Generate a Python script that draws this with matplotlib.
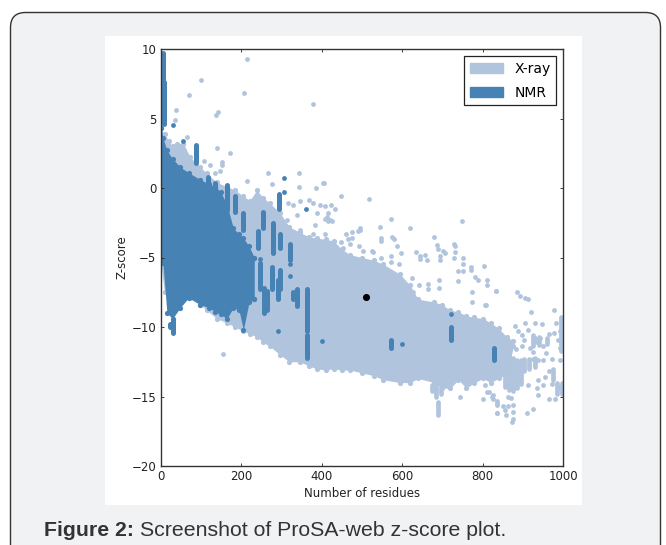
import matplotlib
matplotlib.use('Agg')
import matplotlib.pyplot as plt
from matplotlib.patches import FancyBboxPatch, Rectangle, Patch
from matplotlib.transforms import IdentityTransform

W, H = 666, 545

# X-ray dense cloud
xray_x = [0, 10, 20, 30, 40, 57, 74, 99, 115, 140, 165, 185, 206, 222, 239, 255, 272, 297, 320, 347, 368, 388,
          410, 430, 450, 471, 500, 530, 554, 595, 620, 640, 680, 700, 720, 740, 760, 780, 802, 820, 840, 860, 877]
xray_top = [4.3, 3.9, 3.4, 3.0, 3.2, 3.2, 2.2, 1.5, 1.05, 0.4, 0.1, -0.15, -0.6, -0.9, -0.15, -0.7, -1.1, -1.8, -2.8,
            -3.2, -3.5, -3.6, -3.7, -3.8, -4.4, -4.8, -5.0, -5.2, -5.5, -6.2, -7.0, -8.0, -8.2, -8.4, -8.8, -8.9,
            -9.2, -9.3, -9.4, -9.7, -10.1, -10.7, -11.0]
xray_bot = [-5.3, -7.5, -8.0, -8.4, -8.4, -7.9, -7.9, -8.4, -8.8, -9.4, -9.7, -10.0, -10.3, -10.5, -10.7, -11.1,
            -11.4, -12.0, -12.5, -12.5, -12.8, -13.0, -13.1, -13.0, -13.1, -13.1, -13.3, -13.5, -13.8, -14.0, -14.0,
            -13.7, -14.0, -14.4, -14.4, -13.8, -14.4, -14.0, -13.7, -14.0, -13.7, -13.4, -11.4]

# X-ray clumps: residues, low, high
xray_clump_x = [690, 675, 685, 698, 855, 865, 875, 885, 895, 903, 915, 930, 925, 940, 960, 996, 1000, 975, 985, 997]
xray_clump_lo = [-16.3, -14.6, -15.0, -14.8, -14.3, -14.5, -14.6, -14.4, -14.1, -13.2, -13.0, -12.9, -11.4, -11.3,
                 -11.2, -11.7, -11.6, -13.8, -14.8, -14.8]
xray_clump_hi = [-15.4, -14.2, -14.2, -14.3, -12.0, -12.0, -12.2, -12.4, -12.4, -12.3, -12.3, -12.2, -10.6, -10.7,
                 -10.8, -9.3, -9.6, -13.0, -14.0, -14.0]

# X-ray single structures
xray_pts_x = [214, 100, 70, 208, 380, 38, 143, 137, 35, 65, 140, 173, 152, 152, 123, 107, 148, 136, 214, 266, 343,
              277, 345, 405, 387, 318, 330, 347, 368, 380, 397, 413, 421, 384, 388, 339, 314, 347, 380, 155,
              404, 448, 519, 572, 620, 545, 495, 423, 408, 433, 417, 409, 417, 426, 408, 461, 476, 467, 477, 448, 472,
              454, 492, 504, 495, 491, 548, 548, 574, 580, 588, 597, 636, 645, 572, 572, 593, 529, 548, 525,
              748, 680, 686, 690, 729, 732, 732, 728, 703, 707, 694, 694, 645, 657, 661, 752, 752, 752, 738, 771, 771,
              781, 788, 804, 812, 812, 834, 692, 692, 738, 775, 775, 806, 665, 665, 642, 624, 628,
              834, 885, 893, 906, 914, 809, 920, 978, 997, 983, 906, 930, 949, 914, 881, 887, 899, 903, 978, 964, 993,
              930, 943, 918, 897, 883, 959, 926, 988, 997, 993, 951, 935, 925, 939, 951, 972, 993, 964, 955, 939, 951,
              972, 993, 997, 935, 939, 980, 964, 914, 806, 815, 800, 825, 827, 835, 864, 872, 875, 864, 835, 852, 856,
              877, 835, 858, 926, 911, 877, 874, 744, 812, 823, 837, 837]
xray_pts_y = [9.26, 7.8, 6.67, 6.86, 6.04, 5.6, 5.5, 5.25, 4.9, 3.7, 2.9, 2.5, 1.9, 1.65, 1.65, 1.95, 1.2, 1.05, 0.5,
              1.05, 1.05, 0.3, 0.05, 0.34, -0.02, -1.1, -1.2, -0.9, -0.86, -1.1, -1.2, -2.06, -2.3, -2.66, -1.8, -1.94,
              -2.3, -3.0, -3.3, -11.94,
              0.34, -0.58, -0.8, -2.25, -2.9, -2.8, -2.9, -1.2, -1.3, -1.5, -1.8, -2.2, -2.4, -2.4, -3.3, -3.3, -3.2,
              -3.7, -3.6, -3.9, -4.0, -4.3, -4.2, -4.5, -3.0, -3.1, -3.6, -3.8, -3.5, -3.7, -4.2, -4.7, -4.6, -5.1,
              -4.9, -5.3, -5.5, -4.6, -5.0, -4.5,
              -2.4, -3.5, -4.1, -4.4, -4.0, -4.2, -4.6, -5.0, -4.5, -4.7, -4.9, -5.2, -4.9, -4.8, -5.2, -5.06, -5.5,
              -6.0, -6.0, -5.7, -5.9, -6.4, -6.6, -5.6, -6.6, -7.0, -7.4, -6.6, -7.2, -6.7, -7.5, -8.2, -8.4, -6.9,
              -7.3, -7.0, -6.5, -7.5,
              -7.4, -7.5, -7.8, -7.9, -8.0, -8.4, -8.9, -8.8, -9.4, -9.7, -9.7, -9.7, -9.8, -10.2, -9.9, -10.3, -10.6,
              -10.9, -10.4, -10.5, -10.3, -10.8, -10.8, -11.5, -11.4, -11.6, -11.9, -11.8, -10.9, -10.7, -11.5, -11.4,
              -11.1, -12.3, -12.4, -12.4, -12.3, -12.4, -13.2, -13.6, -13.8, -14.2, -14.1, -14.3, -14.7, -14.4, -14.9,
              -15.2, -15.2, -14.2, -14.2, -14.7, -15.2, -14.9, -15.2, -15.3, -15.0, -15.1, -15.6, -15.7, -15.6, -15.7,
              -16.0, -16.1, -16.2, -16.3, -15.9, -16.2, -16.6, -16.86, -15.0, -14.7, -15.0, -16.2, -15.5]

# NMR dense cloud
nmr_x = [2, 6, 16, 30, 49, 70, 99, 120, 136, 150, 165, 181, 195, 206, 220, 233, 233]
nmr_top = [4.3, 3.6, 2.7, 2.1, 1.5, 1.1, 0.6, 0.3, 0.1, -0.3, -1.2, -2.9, -3.3, -3.6, -4.2, -5.0, -5.0]
nmr_bot = [-5.3, -5.4, -9.0, -9.4, -8.6, -7.9, -8.4, -8.6, -8.9, -9.1, -9.4, -8.6, -8.8, -10.2, -8.2, -8.0, -8.0]

# NMR columns: residues, low, high
nmr_col_x = [6, 8, 89, 119, 136, 164, 185, 206, 208, 241, 255, 280, 276, 297, 294, 322, 247, 256, 264, 297, 293, 329,
             339, 364, 364, 572, 722, 828, 24, 32]
nmr_col_lo = [6.0, 4.6, 1.8, -0.14, -0.62, -1.6, -1.7, -3.0, -5.0, -4.3, -2.9, -4.7, -7.3, -4.3, -1.5, -5.2, -7.3, -9.0,
              -8.8, -7.3, -8.0, -8.0, -8.5, -10.3, -12.2, -11.5, -10.9, -12.4, -10.0, -10.4]
nmr_col_hi = [9.7, 7.6, 3.1, 0.82, 0.34, 0.2, -0.6, -1.8, -4.0, -3.1, -1.7, -2.5, -5.7, -3.3, -0.4, -4.0, -5.4, -7.2,
              -7.4, -5.9, -6.6, -7.5, -7.3, -7.3, -10.6, -10.9, -10.0, -11.5, -9.8, -9.4]

nmr_pts_x = [306, 306, 361, 291, 402, 599, 722, 322, 322, 55, 30, 247]
nmr_pts_y = [0.7, -0.26, -1.5, -10.3, -11.0, -11.2, -9.07, -5.5, -6.3, 3.4, 4.5, -5.1]

query_x = [510]
query_y = [-7.82]

LIGHT = '#b0c4de'
DARK = '#4682b4'

fig = plt.figure(figsize=(W / 100, H / 100), dpi=100, facecolor='white')

# page card and white picture behind the plot
card = FancyBboxPatch((25.5, -30), 620, H - 27.5 + 30, boxstyle='round,pad=15,rounding_size=15',
                      transform=IdentityTransform(), fc='#f1f2f4', ec='#333333', lw=1, zorder=-3)
fig.add_artist(card)
fig.add_artist(Rectangle((105, H - 505), 477, 469, transform=IdentityTransform(), fc='white', ec='none', zorder=-2))

ax = fig.add_axes([160.5 / W, 1 - 466 / H, 402.5 / W, 417 / H])

ax.fill_between(xray_x, xray_bot, xray_top, color=LIGHT, lw=0)
ax.scatter(xray_x + xray_x, xray_top + xray_bot, s=14, color=LIGHT, lw=0)
ax.vlines(xray_clump_x, xray_clump_lo, xray_clump_hi, color=LIGHT, lw=3.4, capstyle='round')
ax.scatter(xray_pts_x, xray_pts_y, s=12, color=LIGHT, lw=0)

ax.fill_between(nmr_x, nmr_bot, nmr_top, color=DARK, lw=0)
ax.scatter(nmr_x + nmr_x, nmr_top + nmr_bot, s=14, color=DARK, lw=0)
ax.vlines(nmr_col_x, nmr_col_lo, nmr_col_hi, color=DARK, lw=3.6, capstyle='round')
ax.scatter(nmr_pts_x, nmr_pts_y, s=12, color=DARK, lw=0)

ax.scatter(query_x, query_y, s=26, color='black', lw=0, zorder=5)

ax.set_xlim(0, 1000)
ax.set_ylim(-20, 10)
ax.set_xticks([0, 200, 400, 600, 800, 1000])
ax.set_yticks([-20, -15, -10, -5, 0, 5, 10])
ax.tick_params(direction='in', top=True, right=True, length=2.5, width=0.6, labelsize=8.5, pad=3, colors='#222222')
for s in ax.spines.values():
    s.set_linewidth(1)
    s.set_color('#333333')
ax.set_xlabel('Number of residues', fontsize=8.5, labelpad=3, color='#222222')
ax.set_ylabel('Z-score', fontsize=8.5, labelpad=2, color='#222222')

leg = ax.legend(handles=[Patch(color=LIGHT, label='X-ray'), Patch(color=DARK, label='NMR')],
                loc='upper right', fontsize=10, fancybox=False, framealpha=1, edgecolor='#222222',
                handlelength=2.4, handleheight=0.75, labelspacing=0.75, borderaxespad=0.5, handletextpad=0.8)
leg.get_frame().set_linewidth(0.9)

fig.text(44 / W, 1 - 531 / H, 'Figure 2:', family='Liberation Sans', weight='bold', fontsize=15.3, va='center',
         color='#333333')
fig.text(140 / W, 1 - 531 / H, 'Screenshot of ProSA-web z-score plot.', family='Liberation Sans', fontsize=15.3,
         va='center', color='#333333')

fig.savefig('out.png', dpi=100)
